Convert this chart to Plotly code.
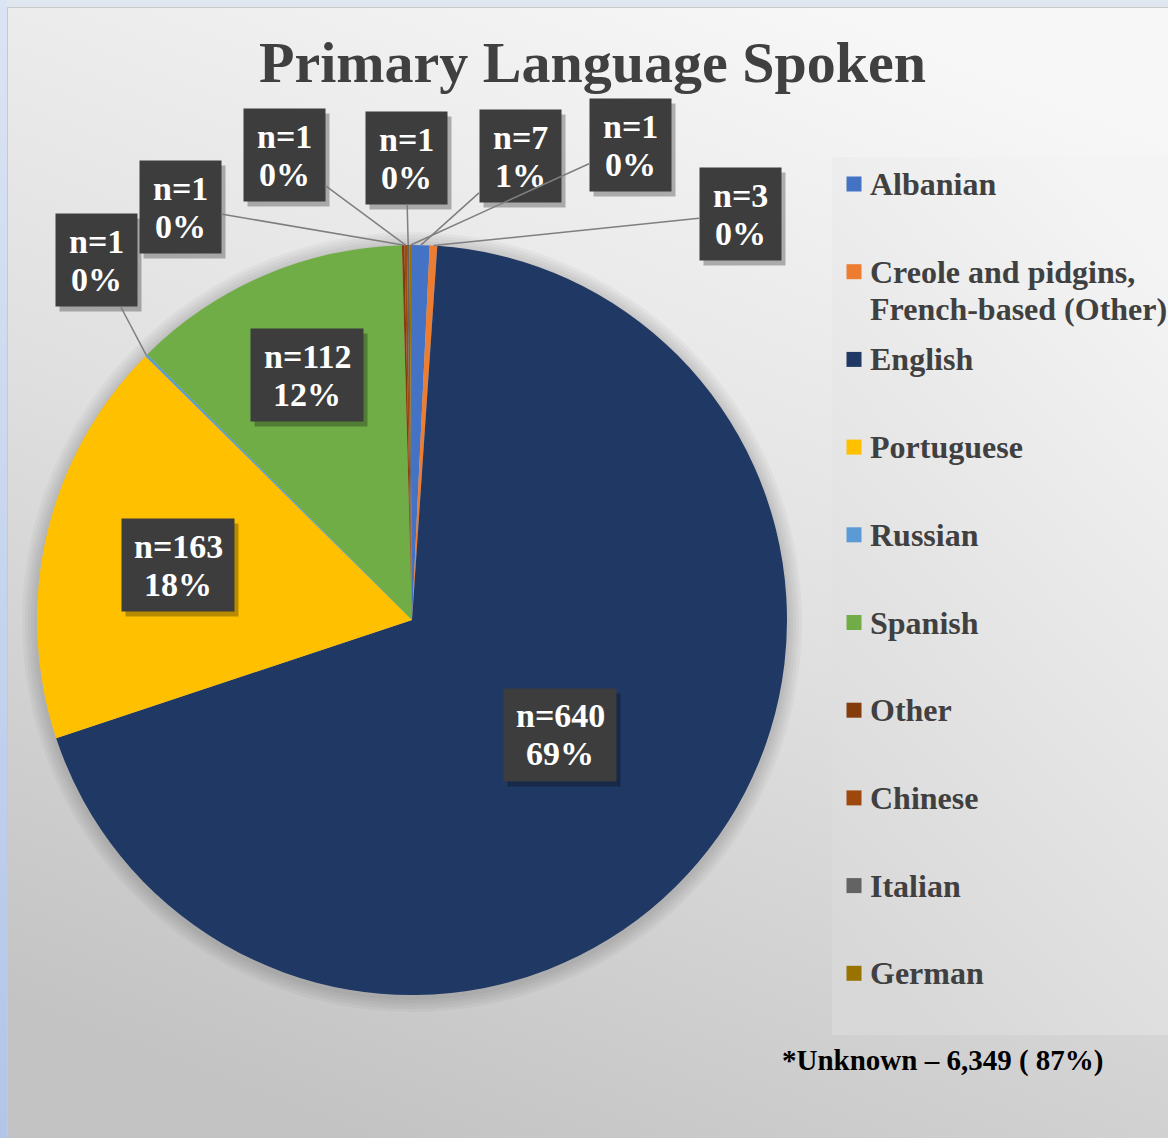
import math
import base64
import plotly.graph_objects as go

# ---------------- data ----------------
CATEGORIES = ["Albanian", "Creole and pidgins, French-based (Other)", "English", "Portuguese",
              "Russian", "Spanish", "Other", "Chinese", "Italian", "German"]
COUNTS = [7, 3, 640, 163, 1, 112, 1, 1, 1, 1]
COLORS = ["#4472C4", "#ED7D31", "#203864", "#FFC000", "#5B9BD5",
          "#70AD47", "#843C0C", "#9E480E", "#636363", "#997300"]
TITLE = "Primary Language Spoken"
FOOTNOTE = "*Unknown – 6,349 ( 87%)"

# ---------------- layout constants (pixels) ----------------
W, H = 1168, 1138
CX, CY, R = 412, 620, 375
FONT = "Liberation Serif, Times New Roman, serif"

# label placement: inside labels use a radius fraction, outside labels a box centre
INSIDE_FRAC = {"English": 0.50, "Portuguese": 0.64, "Spanish": 0.71}
OUTSIDE_POS = {"Albanian": (520, 156), "Creole and pidgins, French-based (Other)": (740, 214),
               "Russian": (96, 260), "Other": (180, 207), "Chinese": (284, 155),
               "Italian": (406, 158), "German": (630, 145)}

total = sum(COUNTS)

fig = go.Figure()

# background drawn as an SVG image
svg = f'''<svg xmlns="http://www.w3.org/2000/svg" width="{W}" height="{H}" viewBox="0 0 {W} {H}" preserveAspectRatio="none">
<defs>
<linearGradient id="bg" x1="0.7" y1="0" x2="0.3" y2="1">
<stop offset="0" stop-color="#f7f7f7"/><stop offset="0.5" stop-color="#e0e0e0"/><stop offset="1" stop-color="#c3c3c3"/></linearGradient>
<linearGradient id="lg" x1="0.7" y1="0" x2="0.3" y2="1">
<stop offset="0" stop-color="#f4f4f4"/><stop offset="1" stop-color="#d8d8d8"/></linearGradient>
<linearGradient id="ls" x1="0" y1="0" x2="0" y2="1">
<stop offset="0" stop-color="#dbe4f3"/><stop offset="1" stop-color="#b2c5e8"/></linearGradient>
</defs>
<rect width="{W}" height="{H}" fill="url(#bg)"/>
<rect x="832" y="157" width="{W-832}" height="878" fill="url(#lg)"/>
<rect x="0" y="0" width="{W}" height="7" fill="#e0e7f1"/>
<rect x="0" y="0" width="7" height="{H}" fill="url(#ls)"/>
<line x1="7" y1="7.5" x2="{W}" y2="7.5" stroke="#c9c9c9" stroke-width="1"/>
<line x1="7.5" y1="7" x2="7.5" y2="{H}" stroke="#c9c9c9" stroke-width="1"/>
</svg>'''
bg_uri = "data:image/svg+xml;base64," + base64.b64encode(svg.encode()).decode()

# pie
fig.add_trace(go.Pie(
    labels=CATEGORIES, values=COUNTS, sort=False, direction="clockwise", rotation=0,
    marker=dict(colors=COLORS, line=dict(width=0)),
    textinfo="none", hoverinfo="label+value+percent", showlegend=False,
    domain=dict(x=[(CX - R) / W, (CX + R) / W], y=[1 - (CY + R) / H, 1 - (CY - R) / H]),
))

# legend markers (scatter in pixel axes)
LEG_X0, LEG_Y0, LEG_DY = 854, 184, 87.7
leg_y = [LEG_Y0 + i * LEG_DY for i in range(len(CATEGORIES))]
fig.add_trace(go.Scatter(
    x=[LEG_X0] * len(CATEGORIES), y=leg_y, mode="markers",
    marker=dict(symbol="square", size=15, color=COLORS, line=dict(width=0)),
    hoverinfo="skip", showlegend=False,
))

annotations = []
shapes = []

# soft shadow around pie
for k in [3, 6, 9, 12, 15]:
    shapes.append(dict(type="circle", xref="x", yref="y", layer="below",
                       x0=CX - R - k, x1=CX + R + k, y0=CY - R - k + 2, y1=CY + R + k + 2,
                       fillcolor="rgba(0,0,0,0.03)", line=dict(width=0)))

LBL_SIZE = 34
LBL_GAP = 19
# data labels
cum = 0
for cat, cnt in zip(CATEGORIES, COUNTS):
    a0 = cum / total * 360
    cum += cnt
    a1 = cum / total * 360
    mid = math.radians((a0 + a1) / 2)
    pct = round(cnt / total * 100)
    lines = [f"<b>n={cnt}</b>", f"<b>{pct}%</b>"]
    big = cat in INSIDE_FRAC
    bw = 110 if big else 79
    bh = 90
    if big:
        f = INSIDE_FRAC[cat]
        lx = CX + R * f * math.sin(mid)
        ly = CY - R * f * math.cos(mid)
    else:
        lx, ly = OUTSIDE_POS[cat]
    # shadow
    annotations.append(dict(x=lx + 4, y=ly + 5, xref="x", yref="y", text=" ", showarrow=False,
                            width=bw, height=bh, bgcolor="rgba(0,0,0,0.28)",
                            font=dict(size=20, family=FONT)))
    box = dict(text=" ", width=bw, height=bh, bgcolor="#3d3d3d", font=dict(size=20, family=FONT))
    if big:
        annotations.append(dict(x=lx, y=ly, xref="x", yref="y", showarrow=False, **box))
    else:
        tx = CX + R * math.sin(mid)
        ty = CY - R * math.cos(mid)
        annotations.append(dict(x=tx, y=ty, xref="x", yref="y", ax=lx, ay=ly, axref="x", ayref="y",
                                showarrow=True, arrowhead=0, arrowwidth=1.5,
                                arrowcolor="#7f7f7f", standoff=0, **box))
    for j, ln in enumerate(lines):
        annotations.append(dict(x=lx, y=ly + (2 * j - 1) * LBL_GAP, xref="x", yref="y", text=ln,
                                showarrow=False, xanchor="center", yanchor="middle",
                                font=dict(size=LBL_SIZE, family=FONT, color="white")))

# legend texts
LEG_LINE = 37
for cat, y in zip(CATEGORIES, leg_y):
    t = cat.replace("pidgins, ", "pidgins,\n")
    for j, ln in enumerate(t.split("\n")):
        annotations.append(dict(x=LEG_X0 + 14, y=y + j * LEG_LINE, xref="x", yref="y", text=f"<b>{ln}</b>",
                                showarrow=False, xanchor="left", yanchor="middle", align="left",
                                font=dict(size=32, family=FONT, color="#404040")))

# title & footnote
annotations.append(dict(x=592, y=62, xref="x", yref="y", text=f"<b>{TITLE}</b>", showarrow=False,
                        xanchor="center", yanchor="middle", font=dict(size=58, family=FONT, color="#404040")))
annotations.append(dict(x=942, y=1060, xref="x", yref="y", text=f"<b>{FOOTNOTE}</b>", showarrow=False,
                        xanchor="center", yanchor="middle", font=dict(size=29, family=FONT, color="black")))

fig.update_layout(
    width=W, height=H, autosize=False,
    margin=dict(l=0, r=0, t=0, b=0, pad=0),
    paper_bgcolor="#e6e6e6", plot_bgcolor="rgba(0,0,0,0)",
    xaxis=dict(range=[0, W], visible=False, fixedrange=True, domain=[0, 1]),
    yaxis=dict(range=[H, 0], visible=False, fixedrange=True, domain=[0, 1]),
    images=[dict(source=bg_uri, xref="paper", yref="paper", x=0, y=1, sizex=1, sizey=1,
                 sizing="stretch", xanchor="left", yanchor="top", layer="below")],
    shapes=shapes, annotations=annotations, showlegend=False,
)

fig.write_html("out.html", config={"displayModeBar": False},
               post_script="document.body.style.margin='0';document.body.style.overflow='hidden';")
